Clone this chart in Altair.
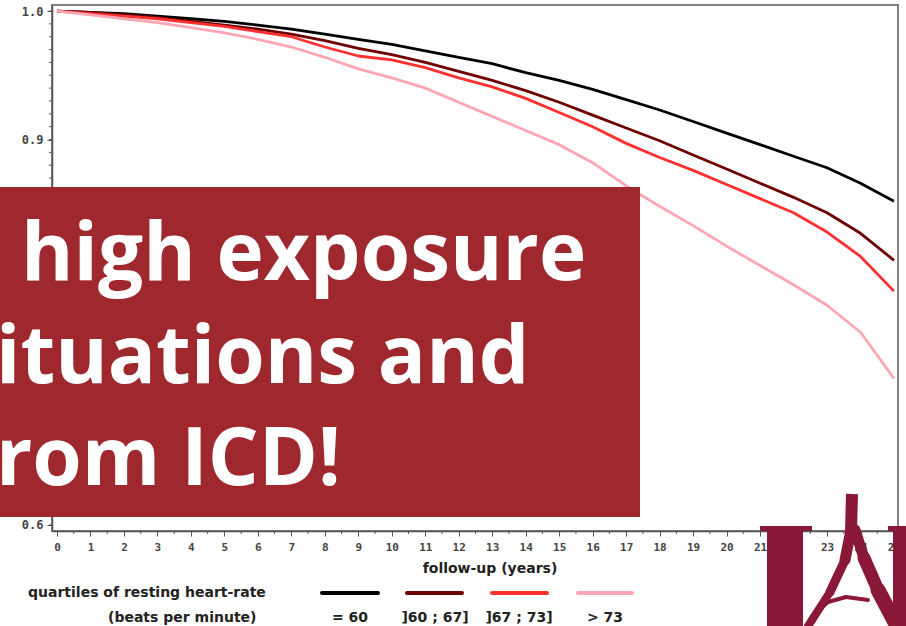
import altair as alt
import pandas as pd

# ---- data ----
years = list(range(26))
groups = ["= 60", "]60 ; 67]", "]67 ; 73]", "> 73"]
colors = ["#000000", "#6E0000", "#FF3030", "#FFA6B4"]

s_q1 = [1.000, 0.999, 0.998, 0.996, 0.994, 0.992, 0.989, 0.986, 0.982, 0.978,
        0.974, 0.969, 0.964, 0.959, 0.952, 0.946, 0.939, 0.931, 0.923, 0.914,
        0.905, 0.896, 0.887, 0.878, 0.866, 0.852]
s_q2 = [1.000, 0.999, 0.997, 0.995, 0.992, 0.989, 0.986, 0.982, 0.977, 0.971,
        0.966, 0.960, 0.953, 0.946, 0.938, 0.929, 0.919, 0.909, 0.899, 0.888,
        0.877, 0.866, 0.855, 0.843, 0.827, 0.806]
s_q3 = [1.000, 0.998, 0.996, 0.994, 0.991, 0.988, 0.984, 0.980, 0.972, 0.965,
        0.962, 0.956, 0.948, 0.941, 0.932, 0.921, 0.910, 0.897, 0.886, 0.876,
        0.865, 0.854, 0.843, 0.828, 0.809, 0.782]
s_q4 = [1.000, 0.997, 0.994, 0.991, 0.987, 0.983, 0.978, 0.972, 0.964, 0.955,
        0.948, 0.940, 0.929, 0.918, 0.907, 0.896, 0.882, 0.864, 0.848, 0.833,
        0.817, 0.802, 0.787, 0.771, 0.750, 0.714]

x_major = list(range(26))
x_minor = [i + 0.5 for i in range(25)]
y_major = [0.6, 0.7, 0.8, 0.9, 1.0]
y_minor = [round(0.6 + i * 0.01, 2) for i in range(41)]

legend_title = ["quartiles of resting heart-rate", "(beats per minute)"]
x_title = "follow-up (years)"
overlay_lines = ["high exposure", "ituations and", "rom ICD!"]

# ---- build tables ----
rows = []
for g, vals in zip(groups, [s_q1, s_q2, s_q3, s_q4]):
    for t, v in zip(years, vals):
        rows.append({"t": t, "s": v, "g": g})
df = pd.DataFrame(rows)

L, T = 52, 5  # plot origin on the page
W, H = 846, 526

xscale = alt.Scale(domain=[-0.149, 25.12], nice=False, zero=False)
yscale = alt.Scale(domain=[0.5953, 1.0047], nice=False, zero=False)
AX = "#555555"
MONO = "DejaVu Sans Mono"
SANS = "DejaVu Sans"

xaxis = alt.Axis(values=x_major, title=None, grid=False, labelFont=MONO,
                 labelFontSize=11, labelFontWeight="bold", labelColor="#444",
                 domainColor=AX, domainWidth=1.5, tickColor=AX, tickSize=5,
                 labelPadding=5, labelFlush=False, labelOverlap=False)
yaxis = alt.Axis(values=y_major, format=".1f", title=None, grid=False,
                 labelFont=MONO, labelFontSize=12, labelFontWeight="bold",
                 labelColor="#444", domainColor=AX, domainWidth=1.5,
                 tickColor=AX, tickSize=5, labelPadding=4, labelOverlap=False)

curves = alt.Chart(df).mark_line(strokeWidth=2.8, strokeJoin="round").encode(
    x=alt.X("t:Q", scale=xscale, axis=xaxis),
    y=alt.Y("s:Q", scale=yscale, axis=yaxis),
    color=alt.Color("g:N", scale=alt.Scale(domain=groups, range=colors), legend=None),
    order=alt.Order("g:N"),
)

minor_y = alt.Chart(pd.DataFrame({"s": y_minor})).mark_rule(color=AX, strokeWidth=1).encode(
    y=alt.Y("s:Q", scale=yscale, axis=yaxis), x=alt.value(-3), x2=alt.value(0))
minor_x = alt.Chart(pd.DataFrame({"t": x_minor})).mark_rule(color=AX, strokeWidth=1).encode(
    x=alt.X("t:Q", scale=xscale, axis=xaxis), y=alt.value(H), y2=alt.value(H + 3))

one = pd.DataFrame({"a": [0]})


def rect(x1, y1, x2, y2, color):
    return alt.Chart(one).mark_rect(color=color).encode(
        x=alt.value(x1 - L), x2=alt.value(x2 - L), y=alt.value(y1 - T), y2=alt.value(y2 - T))


def seg(x1, y1, x2, y2, w, color, cap="round"):
    return alt.Chart(one).mark_rule(color=color, strokeWidth=w, strokeCap=cap).encode(
        x=alt.value(x1 - L), y=alt.value(y1 - T), x2=alt.value(x2 - L), y2=alt.value(y2 - T))


def label(txt, x, y, **kw):
    return alt.Chart(one).mark_text(text=txt, **kw).encode(
        x=alt.value(x - L), y=alt.value(y - T))


layers = [curves, minor_y, minor_x]

TXT = dict(font=SANS, fontSize=14, fontWeight="bold", color="#222", baseline="middle")
# axis title
layers.append(label(x_title, 490, 569, align="center", **TXT))
# legend
layers.append(label(legend_title[0], 28, 593, align="left", **TXT))
layers.append(label(legend_title[1], 108, 618, align="left", **TXT))
leg_x = [(322, 378), (407, 462), (492, 547), (578, 632)]
leg_c = [350, 435, 519, 605]
for (a, b), c, col, g in zip(leg_x, leg_c, colors, groups):
    layers.append(seg(a, 593, b, 593, 4, col))
    layers.append(label(g, c, 618, align="center", **TXT))

# red overlay box with text
BOX = "#9E282E"
layers.append(rect(0, 187, 640, 517, BOX))
BIG = dict(font="Open Sans", fontSize=80, fontWeight="bold", color="white",
           align="left", baseline="alphabetic")
layers.append(label(overlay_lines[0], 21, 280, **BIG))
layers.append(label(overlay_lines[1], -4, 383, **BIG))
layers.append(label(overlay_lines[2], -4, 485, **BIG))

# logo (decoration)
LOGO = "#8A1838"
layers.append(rect(760, 526, 812, 531, LOGO))
layers.append(rect(767, 528, 803, 626, LOGO))
layers.append(rect(888, 526, 906, 531, LOGO))
layers.append(rect(893, 527, 906, 626, LOGO))
layers.append(seg(852, 494, 851, 532, 12, LOGO, "butt"))
layers.append(seg(851, 530, 845, 560, 11, LOGO))
layers.append(seg(845, 560, 830, 592, 9, LOGO))
layers.append(seg(830, 592, 812, 620, 8, LOGO))
layers.append(seg(808, 626, 812, 620, 8, LOGO))
layers.append(seg(855, 530, 864, 558, 11, LOGO))
layers.append(seg(864, 558, 878, 590, 13, LOGO))
layers.append(seg(878, 590, 898, 628, 15, LOGO))
layers.append(seg(812, 616, 828, 602, 4, LOGO))
layers.append(seg(828, 602, 846, 597, 4, LOGO))
layers.append(seg(846, 597, 868, 600, 4, LOGO))

chart = alt.layer(*layers).properties(
    width=W, height=H,
    padding={"left": L, "top": T, "right": 906 - L - W, "bottom": 626 - T - H},
    autosize=alt.AutoSizeParams(type="none"),
    background="white",
).configure_view(stroke="#808080", strokeWidth=2)

chart.save("out.html", embed_options={"renderer": "svg", "actions": False})
